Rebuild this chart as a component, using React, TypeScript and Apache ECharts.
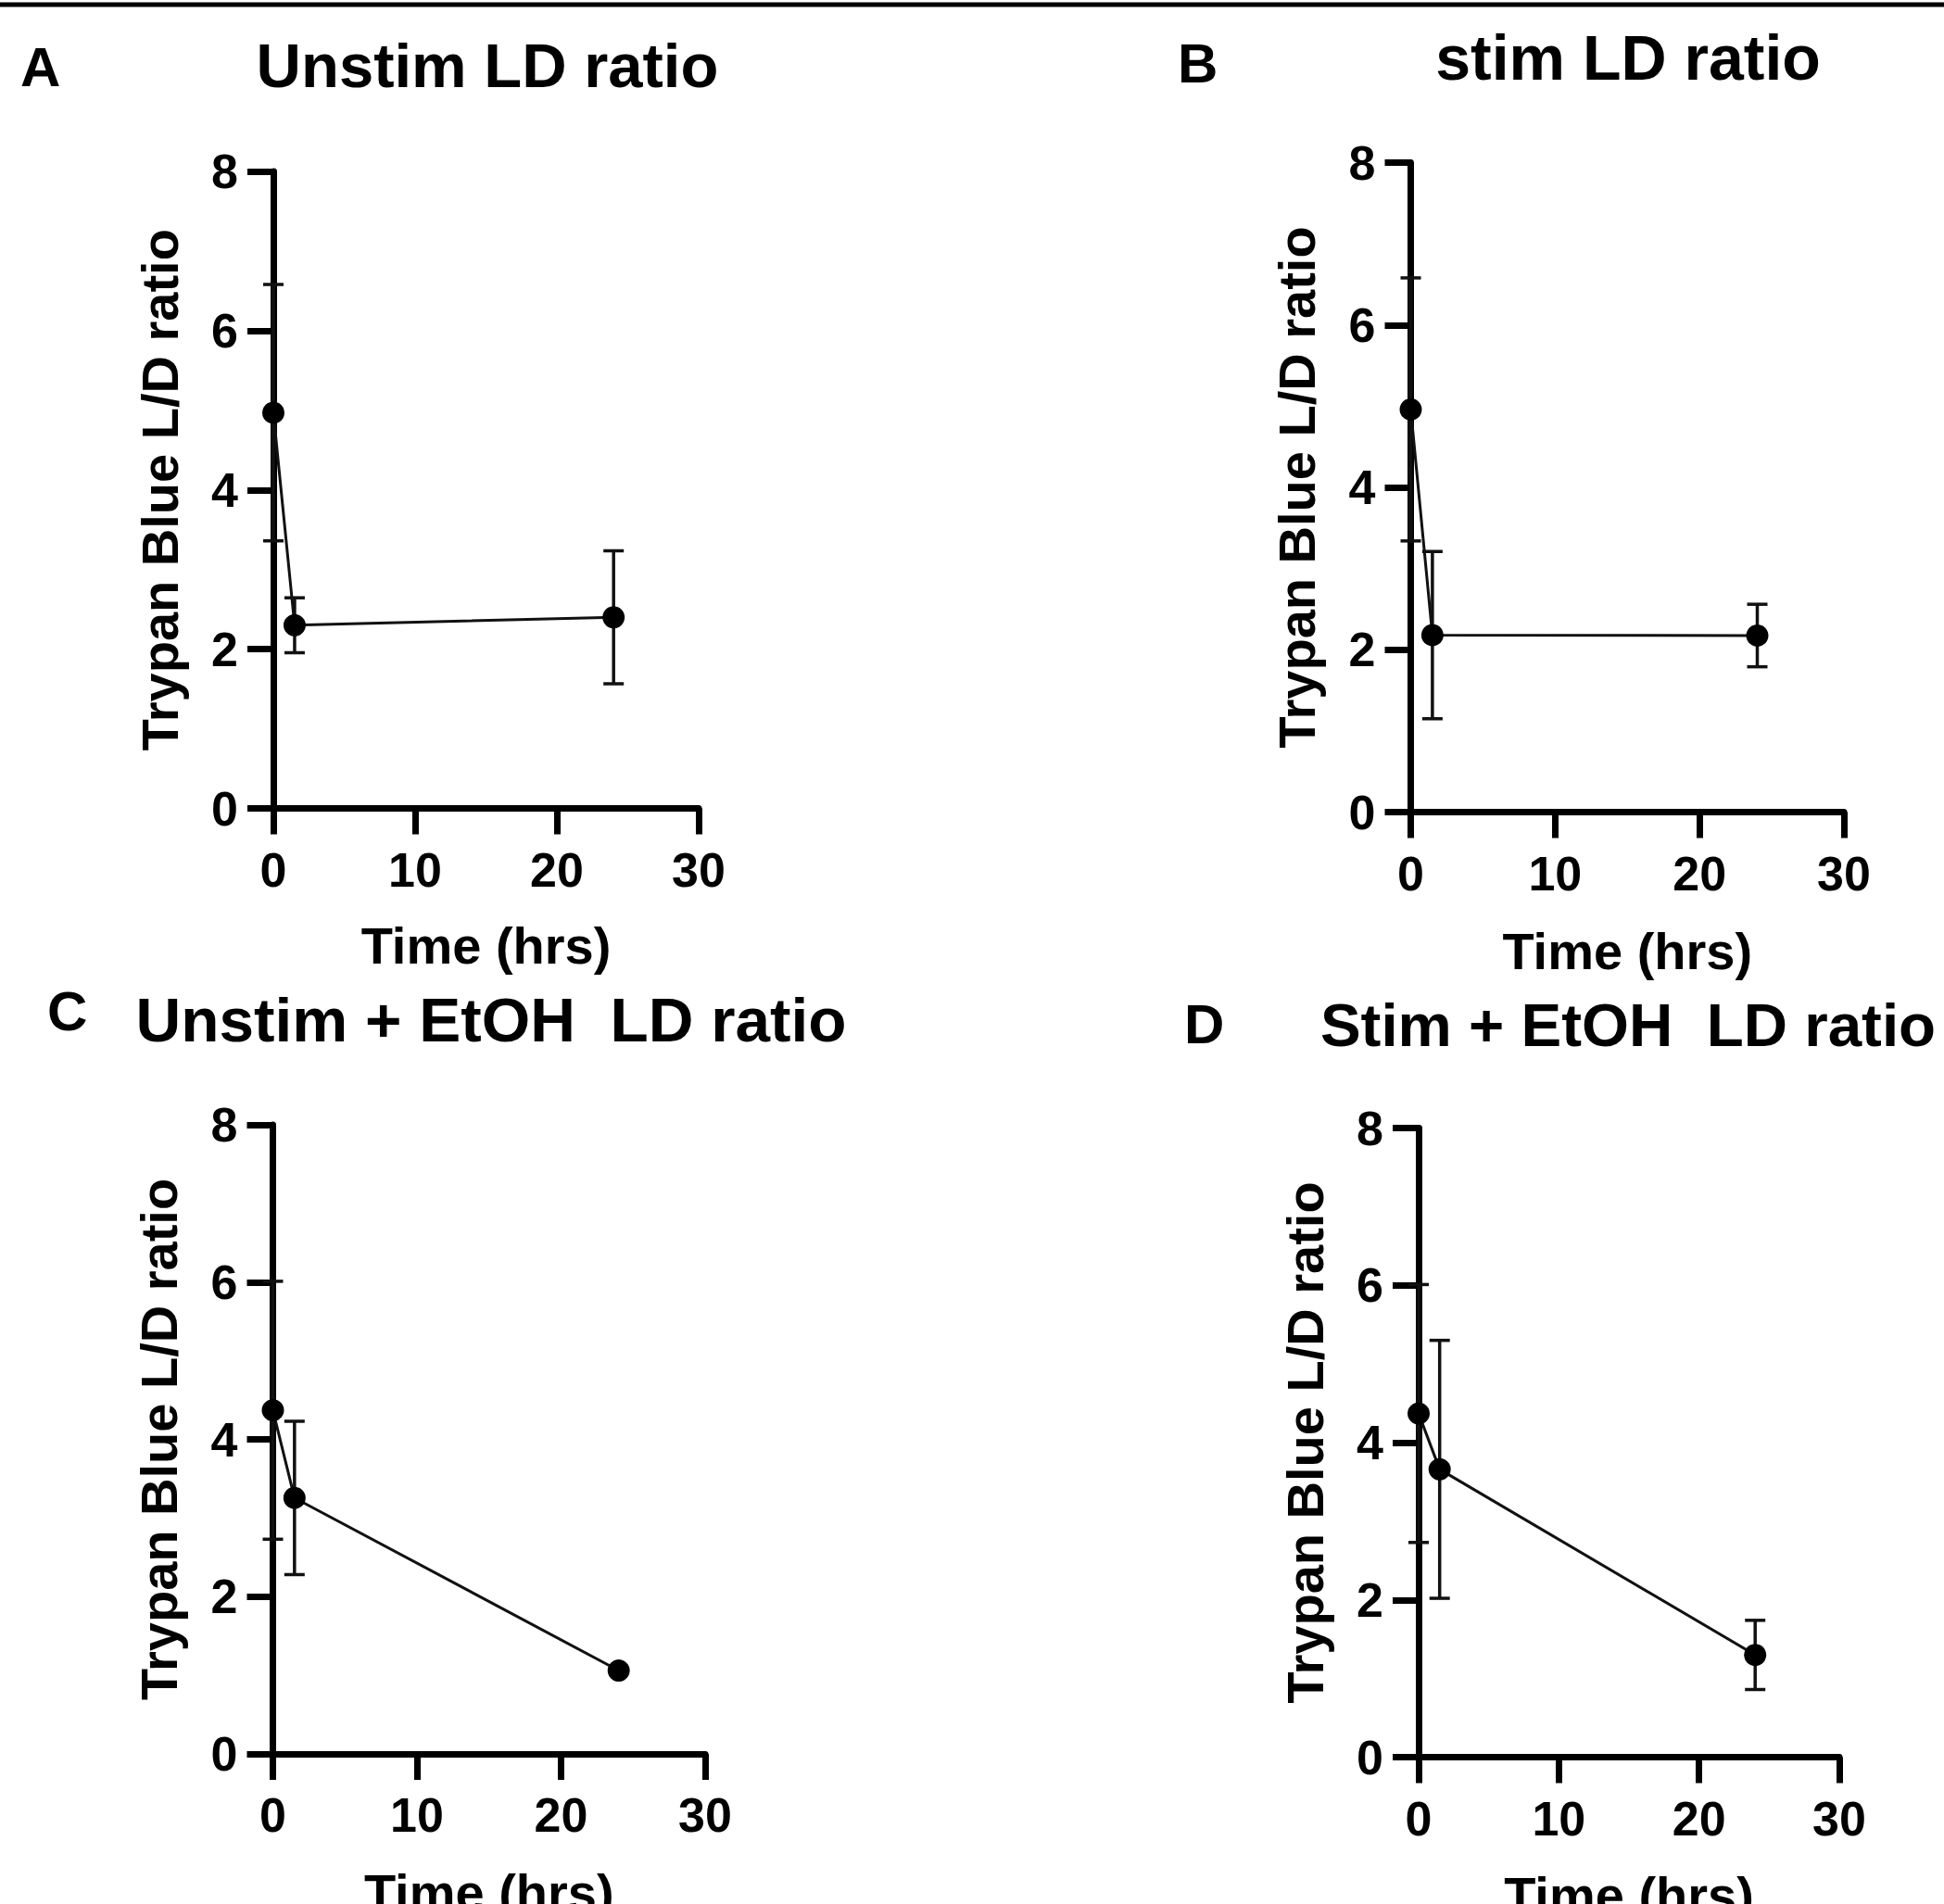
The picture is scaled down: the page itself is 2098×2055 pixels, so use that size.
import React, { useEffect, useRef } from "react";
import * as echarts from "echarts";

// ---------- data ----------
const timeHrs = [0, 1.5, 24];
const xTickMin = 0;
const xTickMax = 30;
const xTickStep = 10;
const yTickMin = 0;
const yTickMax = 8;
const yTickStep = 2;

const panelLetters = ["A", "B", "C", "D"];
const panelTitles = [
  "Unstim LD ratio",
  "stim LD ratio",
  "Unstim + EtOH  LD ratio",
  "Stim + EtOH  LD ratio",
];
const xAxisTitle = "Time (hrs)";
const yAxisTitle = "Trypan Blue L/D ratio";

const meanUnstim = [4.97, 2.3, 2.4];
const sdUnstim = [1.61, 0.345, 0.835];
const meanStim = [4.96, 2.18, 2.175];
const sdStim = [1.62, 1.03, 0.385];
const meanUnstimEtOH = [4.37, 3.255, 1.06];
const sdUnstimEtOH = [1.64, 0.975, 0];
const meanStimEtOH = [4.37, 3.66, 1.3];
const sdStimEtOH = [1.64, 1.64, 0.44];

const panelMeans = [meanUnstim, meanStim, meanUnstimEtOH, meanStimEtOH];
const panelSDs = [sdUnstim, sdStim, sdUnstimEtOH, sdStimEtOH];

// ---------- layout ----------
const W = 2098;
const H = 2055;
const FONT = '"Liberation Sans", Arial, Helvetica, sans-serif';

const grids = [
  { left: 295, top: 185, width: 459, height: 687.5 },
  { left: 1522.5, top: 175.5, width: 467.5, height: 701 },
  { left: 294.5, top: 1214, width: 466.5, height: 679 },
  { left: 1531, top: 1217.5, width: 454, height: 679 },
];
const xNameGaps = [120, 122, 121, 121];
// title centre x and baseline y
const titlePos = [
  [526, 94],
  [1757, 86],
  [530, 1124],
  [1757, 1129],
];
const titleSizes = [67, 68, 67.5, 65.5];
// letter left x and baseline y
const letterPos = [
  [22, 93],
  [1271, 89],
  [51, 1112],
  [1278, 1126],
];

const LETTER_FS = 60;

function buildOption() {
  const grid: any[] = [];
  const xAxis: any[] = [];
  const yAxis: any[] = [];
  const series: any[] = [];
  const graphic: any[] = [];

  graphic.push({
    type: "rect",
    shape: { x: 0, y: 2.5, width: W, height: 5 },
    style: { fill: "#000" },
  });

  for (let i = 0; i < 4; i++) {
    const g = grids[i];
    grid.push({
      left: g.left,
      top: g.top,
      width: g.width,
      height: g.height,
      containLabel: false,
      outerBoundsMode: "none",
    });

    xAxis.push({
      type: "value",
      gridIndex: i,
      min: xTickMin,
      max: xTickMax,
      interval: xTickStep,
      name: xAxisTitle,
      nameLocation: "middle",
      nameGap: xNameGaps[i],
      nameTextStyle: { fontSize: 56, fontWeight: "bold", color: "#000", fontFamily: FONT },
      axisLine: { show: true, onZero: false, lineStyle: { color: "#000", width: 7 } },
      axisTick: { show: true, length: 28, lineStyle: { color: "#000", width: 7 } },
      axisLabel: { fontSize: 52, fontWeight: "bold", color: "#000", fontFamily: FONT, margin: 40 },
      splitLine: { show: false },
    });

    yAxis.push({
      type: "value",
      gridIndex: i,
      min: yTickMin,
      max: yTickMax,
      interval: yTickStep,
      name: yAxisTitle,
      nameLocation: "middle",
      nameRotate: 90,
      nameGap: 95,
      nameTextStyle: { fontSize: 56, fontWeight: "bold", color: "#000", fontFamily: FONT },
      axisLine: { show: true, onZero: false, lineStyle: { color: "#000", width: 7 } },
      axisTick: { show: true, length: 28, lineStyle: { color: "#000", width: 7 } },
      axisLabel: { fontSize: 52, fontWeight: "bold", color: "#000", fontFamily: FONT, margin: 38 },
      splitLine: { show: false },
    });

    const means = panelMeans[i];
    const sds = panelSDs[i];

    series.push({
      type: "custom",
      xAxisIndex: i,
      yAxisIndex: i,
      clip: false,
      z: 3,
      data: timeHrs.map((t, k) => [t, means[k] - sds[k], means[k] + sds[k]]),
      encode: { x: 0, y: [1, 2] },
      renderItem: (params: any, api: any) => {
        const x = api.value(0);
        const lo = api.value(1);
        const hi = api.value(2);
        if (!(hi - lo > 0)) return { type: "group", children: [] };
        const top = api.coord([x, hi]);
        const bot = api.coord([x, lo]);
        const half = 11;
        const style = { stroke: "#111", lineWidth: 3.5 };
        return {
          type: "group",
          children: [
            { type: "line", shape: { x1: top[0], y1: top[1], x2: bot[0], y2: bot[1] }, style },
            { type: "line", shape: { x1: top[0] - half, y1: top[1], x2: top[0] + half, y2: top[1] }, style },
            { type: "line", shape: { x1: bot[0] - half, y1: bot[1], x2: bot[0] + half, y2: bot[1] }, style },
          ],
        };
      },
    });

    series.push({
      type: "line",
      xAxisIndex: i,
      yAxisIndex: i,
      z: 4,
      data: timeHrs.map((t, k) => [t, means[k]]),
      symbol: "circle",
      symbolSize: 24,
      showSymbol: true,
      itemStyle: { color: "#000" },
      lineStyle: { color: "#111", width: 3 },
      clip: false,
    });

    const tfs = titleSizes[i];
    graphic.push({
      type: "text",
      x: titlePos[i][0],
      y: titlePos[i][1] + 0.1535 * tfs,
      style: {
        text: panelTitles[i],
        font: `bold ${tfs}px ${FONT}`,
        textAlign: "center",
        textVerticalAlign: "bottom",
        verticalAlign: "bottom",
        fill: "#000",
      },
    });
    graphic.push({
      type: "text",
      x: letterPos[i][0],
      y: letterPos[i][1] + 0.1535 * LETTER_FS,
      style: {
        text: panelLetters[i],
        font: `bold ${LETTER_FS}px ${FONT}`,
        textAlign: "left",
        textVerticalAlign: "bottom",
        verticalAlign: "bottom",
        fill: "#000",
      },
    });
  }

  return {
    animation: false,
    backgroundColor: "#fff",
    grid,
    xAxis,
    yAxis,
    series,
    graphic,
  };
}

export default function App() {
  const ref = useRef<HTMLDivElement>(null);
  useEffect(() => {
    if (!ref.current) return;
    const chart = echarts.init(ref.current, null, { renderer: "svg", width: W, height: H });
    chart.setOption(buildOption() as any);
    return () => chart.dispose();
  }, []);
  return (
    <div
      ref={ref}
      style={{ position: "absolute", left: 0, top: 0, width: W, height: H, background: "#fff" }}
    />
  );
}
